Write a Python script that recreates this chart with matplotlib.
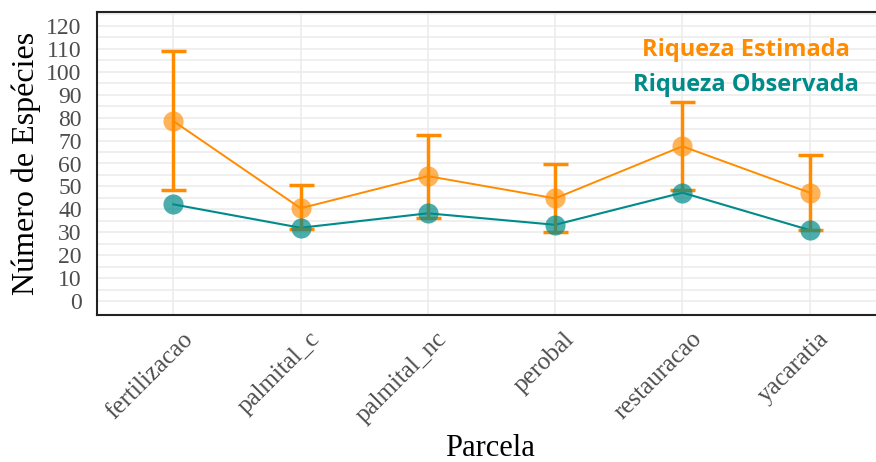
import matplotlib.pyplot as plt
import matplotlib.transforms as mtransforms
import numpy as np

# riqueza por parcela
parcelas = ['fertilizacao', 'palmital_c', 'palmital_nc', 'perobal', 'restauracao', 'yacaratia']
estimada = [78.5, 40.5, 54.5, 44.8, 67.5, 47.3]
est_inf = [48.3, 31.5, 36.3, 30.0, 48.5, 31.0]
est_sup = [109.0, 50.8, 72.5, 59.6, 87.0, 63.8]
observada = [42.2, 32.0, 38.3, 33.3, 47.3, 31.0]

cor_est = '#FF8C00'
cor_obs = '#008B8B'

x = np.arange(1, len(parcelas) + 1)
est = np.array(estimada)
erro = [est - np.array(est_inf), np.array(est_sup) - est]

fig = plt.figure(figsize=(8.76, 4.62), dpi=100)
ax = fig.add_axes([97 / 876, 1 - 315 / 462, 789 / 876, 303 / 462])

ax.set_xlim(0.4, 6.6)
ax.set_ylim(-6, 126)

# grade clara, horizontal a cada 5
ax.set_yticks(np.arange(0, 121, 10))
ax.set_yticks(np.arange(5, 126, 10), minor=True)
ax.grid(True, which='both', axis='y', color='#ebebeb', lw=1.1, zorder=0)
ax.grid(True, which='major', axis='x', color='#ebebeb', lw=1.1, zorder=0)
ax.tick_params(which='both', length=0)

ax.errorbar(x, est, yerr=erro, fmt='none', ecolor=cor_est, elinewidth=2.5,
            capsize=9, capthick=2.5, zorder=3)
ax.plot(x, estimada, color=cor_est, lw=1.4, zorder=2)
ax.plot(x, observada, color=cor_obs, lw=1.5, zorder=2)
ax.plot(x, estimada, 'o', color=cor_est, ms=14.5, alpha=0.65, mec='none', zorder=4)
ax.plot(x, observada, 'o', color=cor_obs, ms=14.5, alpha=0.7, mec='none', zorder=4)

for sp in ax.spines.values():
    sp.set_color('#222222')
    sp.set_linewidth(1.5)

# rótulos do eixo x inclinados, deslocados para a direita do tick
ax.set_xticks(x)
ax.set_xticklabels([])
desloc = mtransforms.ScaledTranslation(8 / 100, -13 / 100, fig.dpi_scale_trans)
for xi, nome in zip(x, parcelas):
    ax.text(xi, 0, nome, transform=ax.get_xaxis_transform() + desloc,
            rotation=45, ha='right', va='top', rotation_mode='anchor',
            family='Liberation Serif', fontsize=18, color='#4d4d4d')

for lab in ax.get_yticklabels():
    lab.set_family('Liberation Serif')
    lab.set_fontsize(17)
    lab.set_color('#4d4d4d')
ax.tick_params(axis='y', pad=11)

fig.text(490 / 876, 1 - 448 / 462, 'Parcela', family='Liberation Serif', fontsize=22,
         ha='center', va='center')
ax.set_ylabel('Número de Espécies', family='Liberation Serif', fontsize=23, labelpad=4)

fig.text(746 / 876, 1 - 50 / 462, 'Riqueza Estimada', color=cor_est, fontsize=17,
         fontweight='bold', family='Open Sans', ha='center', va='center')
fig.text(746 / 876, 1 - 85 / 462, 'Riqueza Observada', color=cor_obs, fontsize=17,
         fontweight='bold', family='Open Sans', ha='center', va='center')

fig.savefig('out.png', dpi=100)
